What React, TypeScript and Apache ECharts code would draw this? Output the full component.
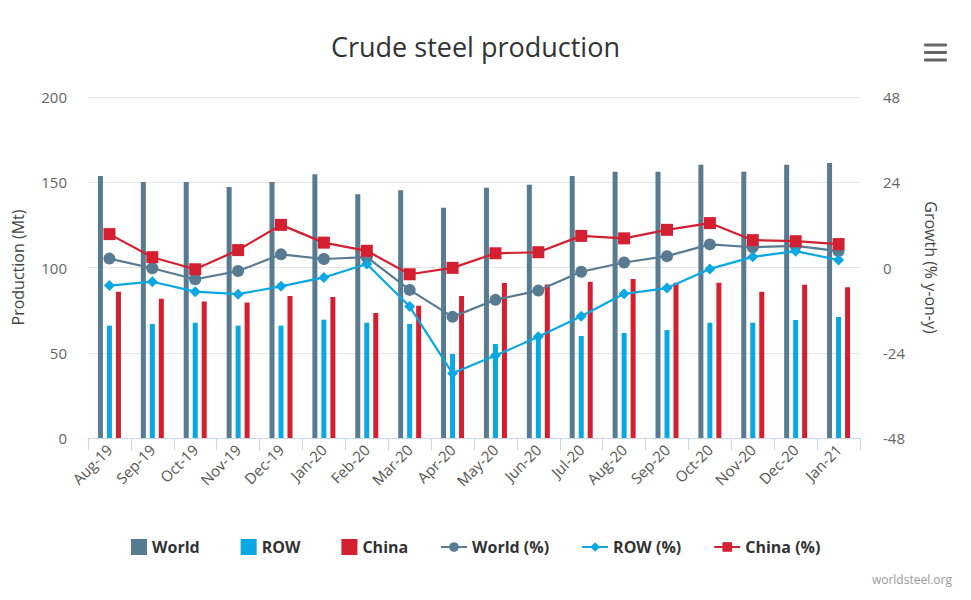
import React, { useEffect, useRef } from "react";
import * as echarts from "echarts";

const categories = [
  "Aug-19", "Sep-19", "Oct-19", "Nov-19", "Dec-19", "Jan-20", "Feb-20", "Mar-20", "Apr-20",
  "May-20", "Jun-20", "Jul-20", "Aug-20", "Sep-20", "Oct-20", "Nov-20", "Dec-20", "Jan-21",
];

const worldProd = [153.7, 150.1, 150.1, 147.2, 150.1, 154.7, 143.0, 145.3, 135.0, 146.8, 148.6, 153.7, 156.2, 156.2, 160.3, 156.2, 160.3, 161.3];
const rowProd = [65.9, 66.9, 67.6, 65.9, 65.9, 69.4, 67.6, 66.9, 49.3, 55.1, 61.0, 59.8, 61.6, 63.3, 67.6, 67.6, 69.2, 71.0];
const chinaProd = [85.8, 81.7, 80.0, 79.4, 83.3, 82.7, 73.3, 77.6, 83.3, 90.9, 90.1, 91.7, 93.3, 91.1, 91.1, 85.8, 89.9, 88.4];

const worldGrowth = [2.5, -0.2, -3.3, -1.0, 3.7, 2.4, 2.9, -6.3, -13.9, -9.1, -6.5, -1.2, 1.4, 3.2, 6.5, 5.7, 6.1, 4.6];
const rowGrowth = [-5.1, -4.0, -6.8, -7.5, -5.3, -2.8, 1.0, -11.0, -29.8, -24.8, -19.5, -13.7, -7.4, -5.8, -0.4, 3.0, 4.6, 2.1];
const chinaGrowth = [9.4, 2.9, -0.5, 4.9, 12.0, 7.0, 4.7, -1.9, -0.1, 4.0, 4.3, 8.9, 8.2, 10.6, 12.5, 7.7, 7.4, 6.6];

const leftTicks = { min: 0, max: 200, interval: 50 };
const rightTicks = { min: -48, max: 48, interval: 24 };

const WORLD = "#587b91";
const ROW = "#09a7e3";
const CHINA = "#d41f30";
const FONT = "'Open Sans', sans-serif";

export default function App() {
  const ref = useRef<HTMLDivElement>(null);

  useEffect(() => {
    if (!ref.current) return;
    const chart = echarts.init(ref.current, undefined, { renderer: "svg" });

    const barBase = {
      type: "bar",
      yAxisIndex: 0,
      barWidth: 5,
      barGap: "80%",
    };
    const lineBase = {
      type: "line",
      yAxisIndex: 1,
      z: 5,
    };
    const legendText = { fontFamily: FONT, fontSize: 16, fontWeight: "bold", color: "#333333" };

    chart.setOption({
      animation: false,
      backgroundColor: "#ffffff",
      textStyle: { fontFamily: FONT },
      title: {
        text: "Crude steel production",
        left: 331,
        top: 33,
        padding: 0,
        textStyle: { fontFamily: FONT, fontSize: 27, fontWeight: "normal", color: "#333333" },
      },
      grid: { left: 88, right: 111, top: 97, bottom: 162, containLabel: false },
      legend: [
        {
          data: ["World", "ROW", "China"],
          left: 131,
          top: 539,
          padding: 0,
          icon: "rect",
          itemWidth: 16,
          itemHeight: 16,
          itemGap: 41,
          textStyle: legendText,
        },
        {
          data: ["World (%)", "ROW (%)", "China (%)"],
          left: 440,
          top: 539,
          padding: 0,
          itemWidth: 26,
          itemHeight: 12,
          itemGap: 32,
          textStyle: legendText,
        },
      ],
      xAxis: {
        type: "category",
        data: categories,
        boundaryGap: true,
        axisLine: { lineStyle: { color: "#ccd6eb" } },
        axisTick: { show: true, length: 12, lineStyle: { color: "#ccd6eb" } },
        axisLabel: { rotate: 45, color: "#555555", fontSize: 15, margin: 9, fontFamily: FONT },
        splitLine: { show: false },
      },
      yAxis: [
        {
          type: "value",
          min: leftTicks.min,
          max: leftTicks.max,
          interval: leftTicks.interval,
          position: "left",
          name: "Production (Mt)",
          nameLocation: "middle",
          nameGap: 62,
          nameTextStyle: { fontSize: 16, color: "#444444", fontFamily: FONT },
          axisLine: { show: false },
          axisTick: { show: false },
          axisLabel: { color: "#666666", fontSize: 15, margin: 21, fontFamily: FONT },
          splitLine: { lineStyle: { color: "#e6e6e6" } },
        },
        {
          type: "value",
          min: rightTicks.min,
          max: rightTicks.max,
          interval: rightTicks.interval,
          position: "right",
          name: "Growth (% y-on-y)",
          nameLocation: "middle",
          nameRotate: -90,
          nameGap: 63,
          nameTextStyle: { fontSize: 16, color: "#444444", fontFamily: FONT },
          axisLine: { show: false },
          axisTick: { show: false },
          axisLabel: { color: "#666666", fontSize: 15, margin: 23, fontFamily: FONT },
          splitLine: { show: false },
        },
      ],
      series: [
        { ...barBase, name: "World", data: worldProd, itemStyle: { color: WORLD } },
        { ...barBase, name: "ROW", data: rowProd, itemStyle: { color: ROW } },
        { ...barBase, name: "China", data: chinaProd, itemStyle: { color: CHINA } },
        {
          ...lineBase,
          name: "World (%)",
          data: worldGrowth,
          symbol: "circle",
          symbolSize: 12,
          itemStyle: { color: WORLD },
          lineStyle: { width: 2.2, color: WORLD },
        },
        {
          ...lineBase,
          name: "ROW (%)",
          data: rowGrowth,
          symbol: "diamond",
          symbolSize: 11,
          itemStyle: { color: ROW },
          lineStyle: { width: 2.2, color: ROW },
        },
        {
          ...lineBase,
          name: "China (%)",
          data: chinaGrowth,
          symbol: "rect",
          symbolSize: 12,
          itemStyle: { color: CHINA },
          lineStyle: { width: 2.2, color: CHINA },
        },
      ],
      graphic: [
        { type: "rect", shape: { x: 924, y: 43.5, width: 23, height: 3, r: 1 }, style: { fill: "#666666" } },
        { type: "rect", shape: { x: 924, y: 51, width: 23, height: 3, r: 1 }, style: { fill: "#666666" } },
        { type: "rect", shape: { x: 924, y: 58.5, width: 23, height: 3, r: 1 }, style: { fill: "#666666" } },
        {
          type: "text",
          right: 19,
          top: 573,
          style: { text: "worldsteel.org", fill: "#999999", fontSize: 12, fontFamily: FONT },
        },
      ],
    });

    return () => chart.dispose();
  }, []);

  return (
    <div
      ref={ref}
      style={{ position: "absolute", left: 0, top: 0, width: 971, height: 600 }}
    />
  );
}
